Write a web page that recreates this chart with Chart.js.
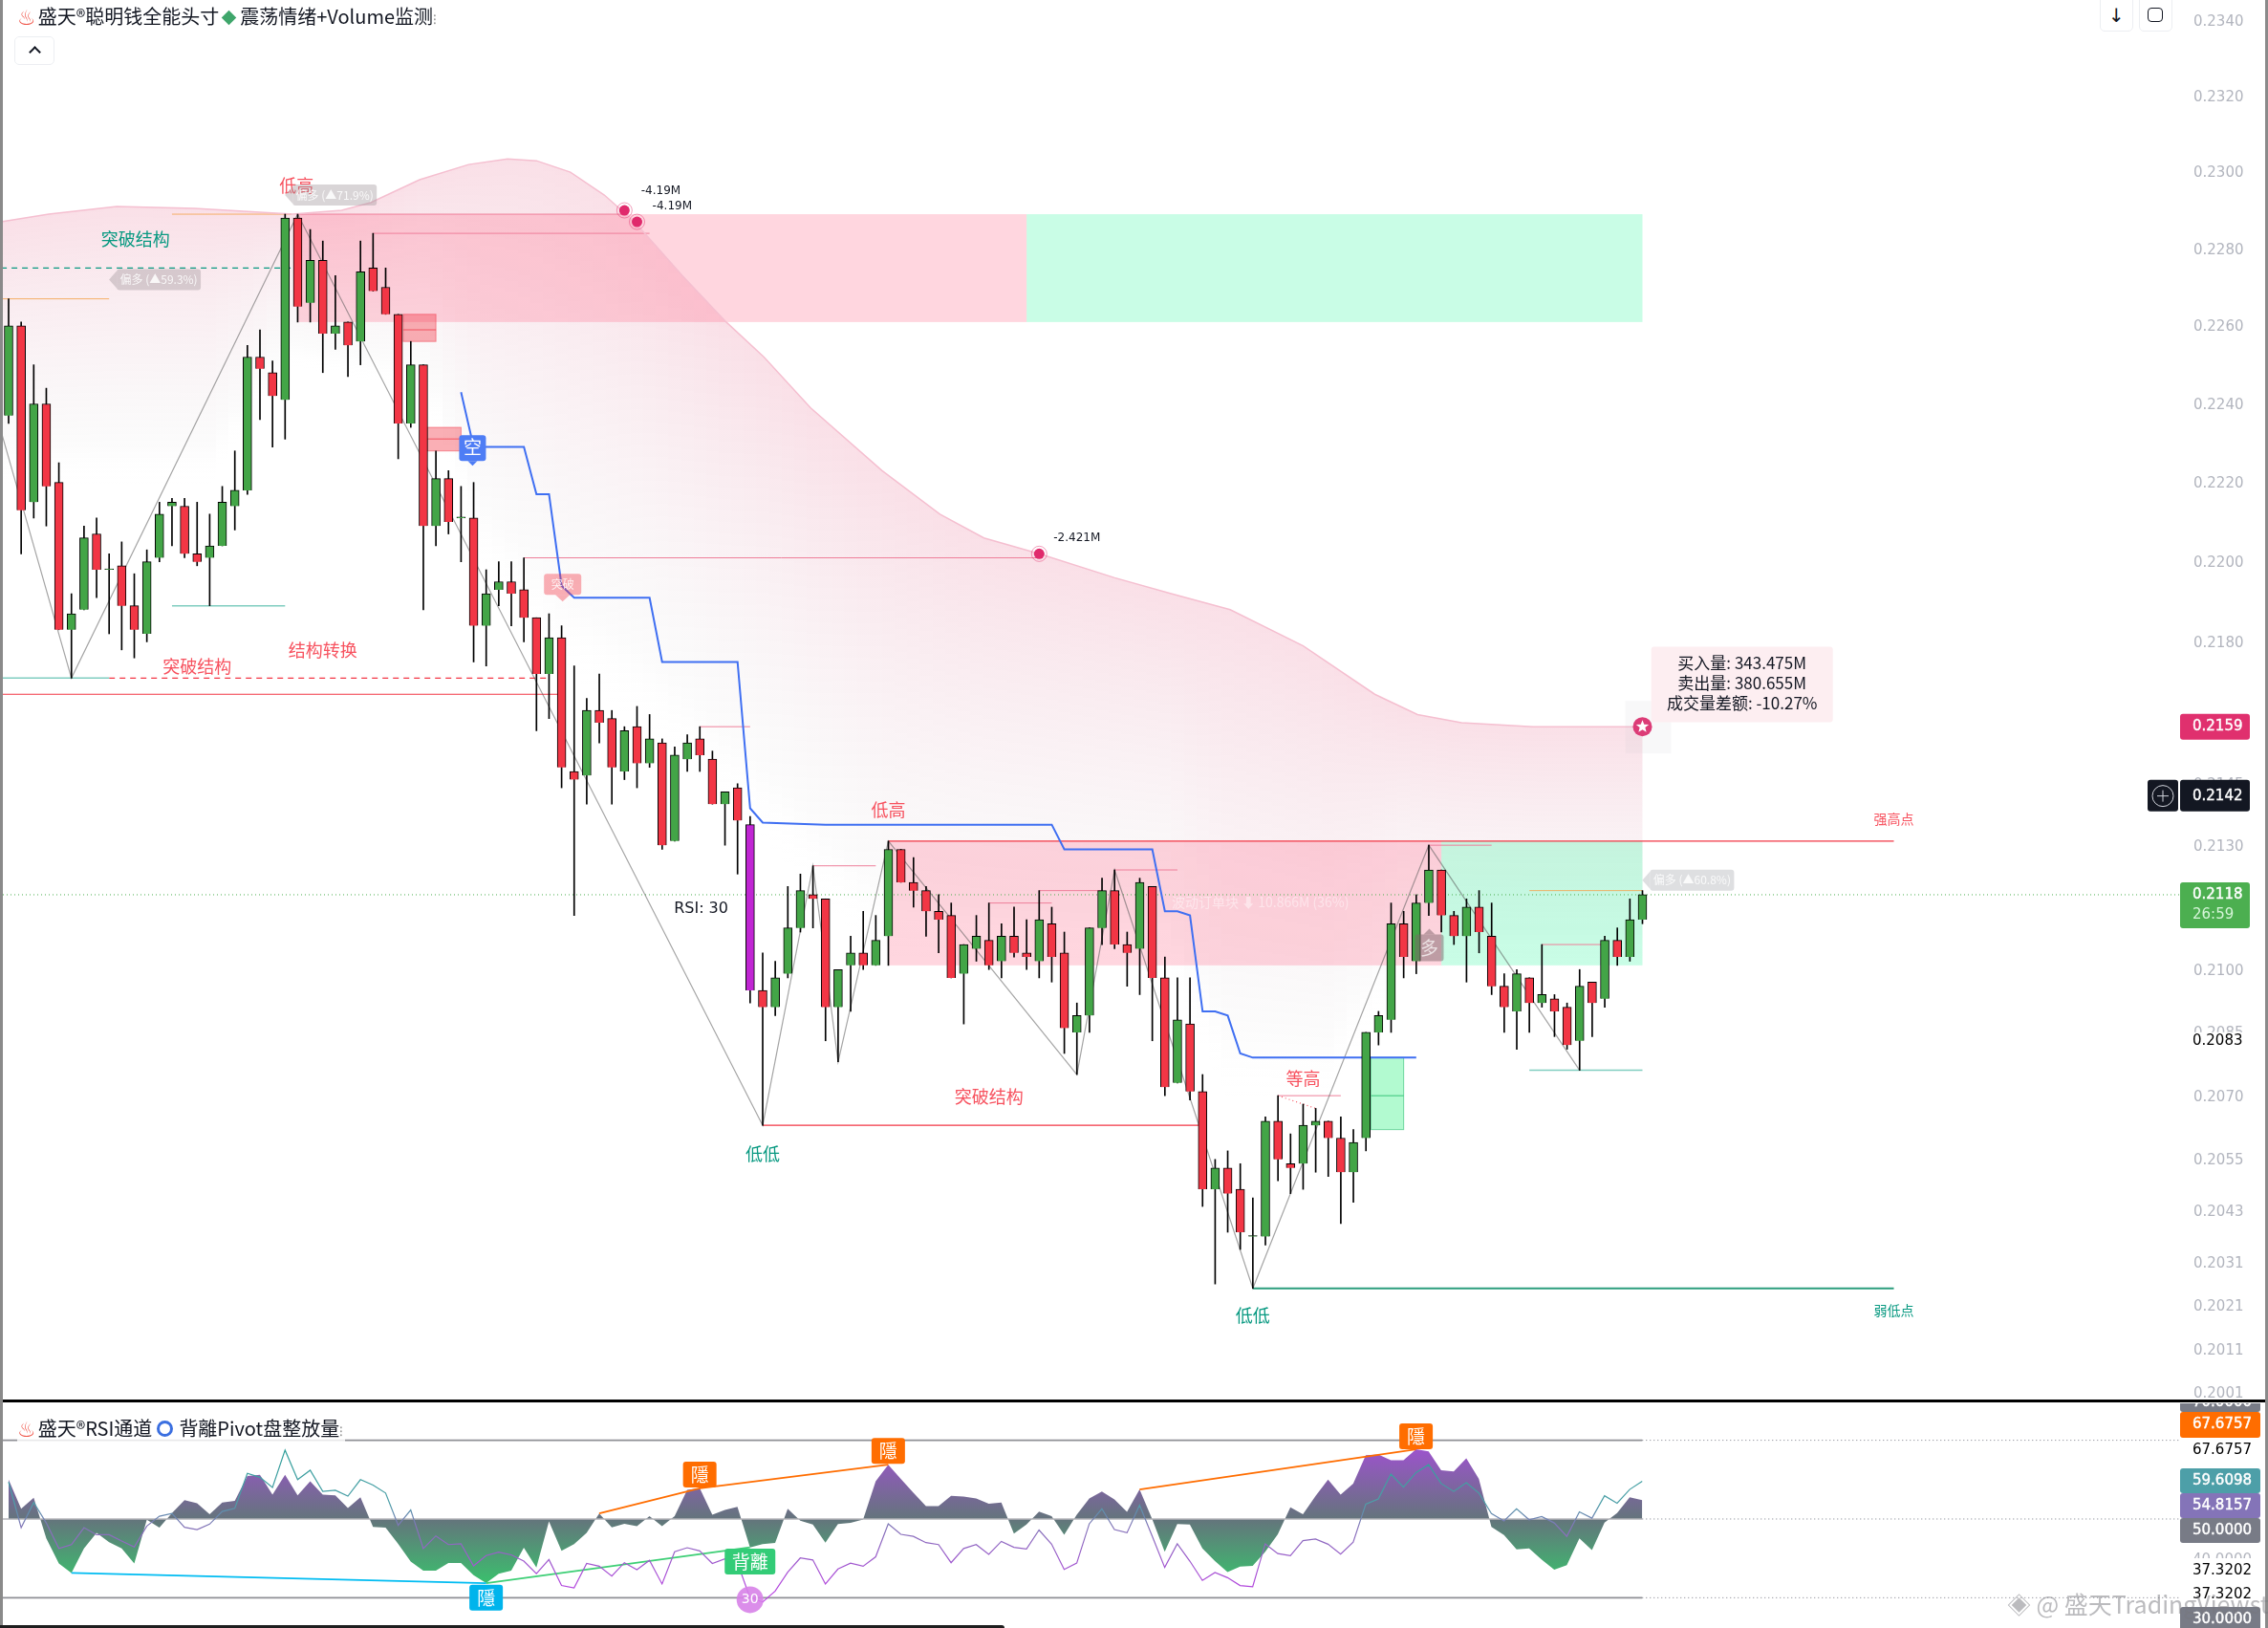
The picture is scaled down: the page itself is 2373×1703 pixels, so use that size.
<!DOCTYPE html>
<html lang="zh">
<head>
<meta charset="UTF-8">
<title>盛天 RSI</title>
<script src="https://cdn.jsdelivr.net/npm/chart.js"></script>
<style>
    body { margin: 0; background: #fff; width: 2373px; height: 1703px; position: relative; overflow: hidden; font-family: "Noto Sans CJK SC", sans-serif; color: #131722; }
    canvas { position: absolute; left: 0; }
    #priceCanvas { top: 0; }
    #rsiCanvas { top: 1468px; }
    .edge { position: absolute; top: 0; bottom: 0; background: #8a8a8a; }
    .pane-line { position: absolute; left: 0; width: 2370px; top: 1464px; height: 3px; background: #000; }
    .title { position: absolute; left: 18px; font-size: 20px; line-height: 26px; white-space: nowrap; background: rgba(255,255,255,.8); padding-right: 2px; }
    .title .flame { color: #f0564a; font-family: "DejaVu Sans"; font-size: 22px; margin-right: 2px; vertical-align: -1px; line-height: 20px; }
    .title .money { display: inline-block; width: 11px; height: 11px; background: #3fa66b; transform: rotate(45deg); margin: 0 6px 1px 5px; }
    .title .swirl { display: inline-block; width: 11px; height: 11px; border: 3px solid #3b6fe0; border-radius: 50%; margin: 0 6px 0 5px; vertical-align: -1px; }
    .title .cut { color: #999; font-size: 14px; }
    .btn { position: absolute; background: #fff; border: 1px solid #eceef2; border-radius: 5px; box-sizing: border-box; font-family: "DejaVu Sans"; text-align: center; color: #131722; }
    .caret { position: absolute; left: 16px; top: 11px; width: 7px; height: 7px; border-left: 2px solid #131722; border-top: 2px solid #131722; transform: rotate(45deg); }
    .frame { position: absolute; left: 8px; top: 15px; width: 14px; height: 13px; border: 1.5px solid #131722; border-radius: 4px; }
    .watermark { position: absolute; left: 2100px; top: 1660px; font-size: 25px; line-height: 34px; color: rgba(120,120,125,.5); white-space: nowrap; }
    .bottom-strip { position: absolute; left: 0; top: 1700px; width: 1051px; height: 3px; background: #1e1e1e; border-top-right-radius: 3px; }
</style>
</head>
<body>
<canvas id="priceCanvas" width="2373" height="1465"></canvas>
<canvas id="rsiCanvas" width="2373" height="235"></canvas>
<div class="pane-line"></div>
<div class="edge" style="left:0;width:3px"></div>
<div class="edge" style="left:2370px;width:3px"></div>
<div class="title" style="top:4px"><span class="flame">♨</span>盛天®聪明钱全能头寸<span class="money"></span>震荡情绪+Volume监测<span class="cut">⁝</span></div>
<div class="title" style="top:1481px"><span class="flame">♨</span>盛天®RSI通道<span class="swirl"></span>背離Pivot盘整放量<span class="cut">⁝</span></div>
<div class="btn" style="left:15px;top:38px;width:42px;height:30px"><span class="caret"></span></div>
<div class="btn" style="left:2197px;top:-8px;width:35px;height:41px;font-size:20px;line-height:46px">↓</div>
<div class="btn" style="left:2238px;top:-8px;width:35px;height:41px"><span class="frame"></span></div>
<div class="bottom-strip"></div>
<div class="watermark">◈ @ 盛天TradingViewst</div>

<script>
// candles
const opens = [.2237,.2260,.2215,.2240,.2220,.2183,.2188,.2207,.2198,.2199,.2189,.2182,.2201,.2214,.2214,.2202,.2201,.2204,.2214,.2218,.2252,.2248,.2241,.2288,.2266,.2277,.2258,.2261,.2256,.2275,.2270,.2263,.2235,.2250,.2209,.2221,.2211,.2211,.2184,.2193,.2195,.2193,.2186,.2172,.2181,.2148,.2147,.2163,.2161,.2148,.2159,.2150,.2155,.2131,.2151,.2156,.2151,.2140,.2144,.2135,.2095,.2091,.2099,.2110,.2118,.2117,.2091,.2101,.2104,.2101,.2108,.2129,.2121,.2119,.2114,.2113,.2099,.2105,.2107,.2102,.2108,.2104,.2102,.2111,.2104,.2085,.2089,.2110,.2119,.2106,.2105,.2120,.2098,.2073,.2087,.2071,.2048,.2053,.2048,.2037,.2037,.2064,.2054,.2054,.2063,.2064,.2060,.2052,.2060,.2085,.2088,.2111,.2102,.2116,.2124,.2113,.2108,.2115,.2108,.2096,.2090,.2098,.2092,.2093,.2091,.2083,.2097,.2093,.2107,.2103,.2112];
const highs = [.2267,.2261,.2250,.2244,.2225,.2192,.2209,.2211,.2202,.2205,.2197,.2203,.2215,.2216,.2216,.2215,.2212,.2219,.2228,.2255,.2259,.2251,.2289,.2289,.2285,.2282,.2273,.2261,.2282,.2284,.2275,.2263,.2256,.2250,.2228,.2223,.2219,.2220,.2198,.2200,.2200,.2201,.2186,.2187,.2184,.2174,.2166,.2172,.2163,.2159,.2164,.2162,.2156,.2154,.2157,.2159,.2153,.2143,.2145,.2137,.2104,.2102,.2120,.2123,.2125,.2117,.2100,.2108,.2114,.2113,.2131,.2129,.2127,.2120,.2118,.2116,.2106,.2113,.2116,.2111,.2115,.2112,.2119,.2115,.2109,.2092,.2110,.2122,.2124,.2109,.2122,.2120,.2103,.2098,.2098,.2075,.2055,.2057,.2054,.2046,.2065,.2070,.2061,.2068,.2067,.2064,.2065,.2062,.2085,.2090,.2116,.2114,.2118,.2130,.2124,.2114,.2117,.2119,.2116,.2099,.2100,.2098,.2106,.2094,.2092,.2100,.2097,.2108,.2110,.2117,.2119];
const lows = [.2235,.2202,.2211,.2209,.2183,.2171,.2188,.2191,.2182,.2178,.2176,.2180,.2200,.2204,.2201,.2199,.2189,.2204,.2208,.2217,.2236,.2229,.2231,.2261,.2261,.2248,.2254,.2247,.2250,.2269,.2263,.2226,.2234,.2188,.2204,.2207,.2200,.2175,.2174,.2189,.2184,.2180,.2158,.2161,.2144,.2113,.2140,.2155,.2140,.2146,.2144,.2149,.2129,.2131,.2148,.2148,.2140,.2130,.2123,.2092,.2063,.2089,.2098,.2109,.2110,.2083,.2078,.2090,.2100,.2101,.2101,.2121,.2115,.2108,.2104,.2098,.2087,.2102,.2100,.2098,.2103,.2100,.2098,.2097,.2080,.2075,.2085,.2106,.2105,.2096,.2094,.2083,.2070,.2073,.2069,.2044,.2026,.2038,.2034,.2025,.2035,.2050,.2047,.2048,.2052,.2051,.2040,.2045,.2057,.2082,.2085,.2098,.2099,.2113,.2109,.2106,.2097,.2104,.2094,.2085,.2081,.2085,.2091,.2084,.2081,.2076,.2084,.2091,.2101,.2102,.2111];
const closes = [.2260,.2213,.2240,.2219,.2183,.2187,.2206,.2198,.2198,.2189,.2183,.2200,.2212,.2215,.2202,.2200,.2204,.2215,.2218,.2252,.2249,.2242,.2288,.2265,.2277,.2258,.2260,.2255,.2274,.2269,.2263,.2235,.2250,.2209,.2221,.2210,.2211,.2184,.2192,.2195,.2192,.2186,.2172,.2181,.2149,.2146,.2163,.2160,.2149,.2158,.2150,.2156,.2130,.2152,.2155,.2152,.2140,.2143,.2136,.2095,.2091,.2098,.2110,.2119,.2117,.2091,.2100,.2104,.2101,.2107,.2129,.2121,.2119,.2114,.2112,.2098,.2106,.2108,.2101,.2108,.2104,.2103,.2112,.2103,.2086,.2089,.2110,.2119,.2106,.2104,.2121,.2098,.2072,.2088,.2071,.2048,.2053,.2047,.2038,.2037,.2064,.2055,.2053,.2063,.2064,.2060,.2052,.2059,.2085,.2089,.2111,.2103,.2116,.2124,.2113,.2108,.2115,.2109,.2096,.2091,.2099,.2092,.2094,.2090,.2082,.2096,.2092,.2107,.2103,.2112,.2118];
const oversoldBars = [59];

const priceTicks = [.2340,.2320,.2300,.2280,.2260,.2240,.2220,.2200,.2180,.2145,.2130,.2100,.2085,.2070,.2055,.2043,.2031,.2021,.2011,.2001];

// rsi pane
const rsiArea = [60,52.6,55.4,45.1,38.7,36.3,42.5,46.5,44.1,42.5,38.7,49.8,47.8,51.5,54.8,54,51.2,54.2,54.6,60.9,61.2,56.2,61.2,56,59.6,56.2,56,52.8,55.5,48,47.8,43.7,39.2,36.9,36.9,38.8,38.8,35.7,33.7,36.1,36.9,42.7,37.7,49.4,41.9,43.6,46.5,51.4,47.9,48.8,48.2,50.7,48.2,50.7,57.4,57.8,51.1,52.3,53.1,42.8,43.6,43.9,52.6,49.6,48.6,44,48.7,49,49.9,59.6,63.8,60.2,56.7,53.3,53.3,55.9,55.7,55.2,53.9,54.2,46.3,48.6,51.9,50.7,46,51.1,55.2,57,55,51.8,57.5,50,41.7,48.7,48.6,42.5,39.3,36.5,37.9,38.1,41.7,46.1,53,51.2,55.8,60,56.2,59,66.2,66.4,64.9,64.9,67.7,67.2,62.4,62.1,65.4,60.2,48,45.9,42.3,42.5,39.7,37.1,38.3,45.1,42.1,49.1,51.5,55.5,54.8];
const rsiLine = [59.4,47.8,54.2,49,42.5,43.5,47.8,46,46,44.4,42.9,48.2,50.7,51.4,47.9,47.3,48.7,51.9,52.7,61.6,60.6,58,67.5,60,62.4,57,57.3,55.8,60,58.6,56.6,48.4,52.3,42.5,45.7,43.5,43.7,38.1,40.7,41.6,40.9,39.3,36.1,39.7,33.1,32.5,38.7,38,35.5,38.9,37.1,39.5,33.5,41.7,42.7,41.9,38.7,39.9,38.9,30,28.9,31.7,36.5,40.1,39.6,33.5,37.3,38.8,38,40.4,48.8,46.1,45.6,44,43.5,38.9,42.5,43.5,41,44.3,42.8,42.4,47.2,43.6,37.2,38.8,48.8,52.6,47.3,46.5,53.5,45.7,37.7,43.7,39.3,34.4,36.4,35.1,33.1,32.8,43.7,41.2,40.7,44.5,44.9,43.6,41.1,44.1,53.8,55.1,61.4,58.1,61.8,63.8,59,57,59.2,56.6,51.4,49.5,52.6,49.8,50.6,49,45.6,51.8,50.2,55.9,54,57.5,59.6];
const rsiLevels = [70,50,30];
const tealDivergence = [[5,36.3],[38,33.7]];
const greenDivergence = [[38,33.7],[59,42.8]];
const orangeDivergence1 = [[47,51.4],[55,57.8],[70,63.8]];
const orangeDivergence2 = [[90,57.5],[112,67.7]];

// money flow curve and the lower edge of its shading
const curveBars = [-0.6,3.2,8.6,14.8,22.6,26.5,28.8,32.7,36.6,39.7,42,44.7,47.4,49.8,53.6,57.1,60.1,63.8,69.5,74.1,77.6,82,88,92.5,97.2,103,108.7,112.1,115.6,121.3,130];
const curveValues = [.2287,.2289,.2291,.22905,.2289,.2290,.2292,.2298,.2302,.23035,.2303,.2300,.2294,.2287,.2273,.2261,.2252,.2239,.2223,.2212,.2206,.2202,.2196,.2192,.2188,.2179,.2167,.2162,.2160,.2159,.2159];
const shadeBars = [-0.6,16,22,33,38,44,52,60,70,92,97,105,111,130];
const shadeValues = [.2219,.2219,.2250,.2243,.2197,.2173,.2155,.2131,.2100,.2100,.2069,.2069,.2100,.2100];

// blue trail line and zigzag
const trailBars = [36,37,41,42,43,44,45,51,52,58,59,60,65,83,84,91,92,93,94,95,96,97,98,99,112];
const trailValues = [.2243,.2229,.2229,.2217,.2217,.2194,.2191,.2191,.2175,.2175,.2139,.21355,.2135,.2135,.2129,.2129,.2114,.2114,.2113,.2090,.2090,.2089,.2080,.2079,.2079];
const zigzagBars = [-0.6,5,23,60,64,66,70,85,88,99,113,125];
const zigzagValues = [.2233,.2171,.2289,.2063,.2125,.2078,.2131,.2075,.2124,.2025,.2130,.2076];

// [from bar, to bar, price]
const redLevels = [[-0.6,44,.2167],[60,95,.2063],[70,150,.2131]];
const greenLevels = [[99,150,.2025]];
const pinkLevels = [[23,49,.2289],[29,51,.2284],[41,82,.2201],[55,59,.2159],[64,69,.2125],[78,83,.2116],[82,87,.2119],[88,93,.2124],[101,106,.2070],[113,118,.2130],[122,127,.2106]];
const orangeLevels = [[-0.6,8,.2267],[13,22.5,.2289],[121,130,.2119]];
const paleTealLevels = [[-0.6,8,.2171],[13,22,.2189],[121,130,.2076]];
const tealDashed = [[-0.6,22.5,.2275]];
const redDashed = [[8,43,.2171]];

// [from bar, to bar, top price, bottom price]
const pinkZones = [[23,81,.2289,.2261],[70,114,.2131,.2101]];
const mintZones = [[81,130,.2289,.2261],[114,130,.2131,.2101]];
// [from bar, to bar, top, middle, bottom]
const redBoxes = [[31.4,34,.2263,.2259,.2256],[33.3,36,.2234,.2231,.2228]];
const greenBoxes = [[108.4,111,.2079,.2070,.2062]];

const volumeDots = [[49,.2290],[50,.2287],[82,.2202],[130,.2159]];

const redNotes = [['低高',22.9,.22965],['结构转换',25,.2178],['突破结构',15,.2174],['低高',70,.21385],['突破结构',78,.20698],['等高',103,.2074]];
const greenNotes = [['突破结构',10.1,.22825],['低低',60,.20562],['低低',99,.20187]];
const bias = [['偏多 (▲59.3%)',8.6,.2272],['偏多 (▲71.9%)',22.6,.2294],['偏多 (▲60.8%)',130.6,.21215]];
const volumeTexts = [['-4.19M',51.9,.2295],['-4.19M',52.8,.2291],['-2.421M',85,.2206]];
const buySellLines = ['买入量: 343.475M','卖出量: 380.655M','成交量差额: -10.27%'];

const axisFont = '15px "DejaVu Sans"';
const cjk = '"Noto Sans CJK SC"';
const xMin = -0.456, xMax = 172.8;

const candleUp = '#43a547', candleDown = '#f23645', oversold = '#c026d3';

function levelSets(list, color, width, dash) {
    return list.map(s => ({
        type: 'line', order: 3, borderColor: color, borderWidth: width, borderDash: dash || [], pointRadius: 0,
        data: [{x: s[0], y: s[2]}, {x: s[1], y: s[2]}]
    }));
}

function pathSet(bars, values, color, width, dash) {
    return {
        type: 'line', order: 3, borderColor: color, borderWidth: width, borderDash: dash || [], pointRadius: 0,
        data: bars.map((b, i) => ({x: b, y: values[i]}))
    };
}

function lerp(bars, vals, at) {
    for (let i = 1; i < bars.length; i++) {
        if (at <= bars[i]) return vals[i - 1] + (vals[i] - vals[i - 1]) * (at - bars[i - 1]) / (bars[i] - bars[i - 1]);
    }
    return vals[vals.length - 1];
}

function tag(ctx, x, y, w, h, color, r) {
    ctx.fillStyle = color;
    ctx.beginPath();
    ctx.roundRect(x, y, w, h, r === undefined ? 3 : r);
    ctx.fill();
}

function text(ctx, str, x, y, font, color, align) {
    ctx.font = font;
    ctx.fillStyle = color;
    ctx.textAlign = align || 'center';
    ctx.textBaseline = 'middle';
    ctx.fillText(str, x, y);
}

// white tag text sits a bit heavier than the plain axis labels
function tagText(ctx, str, x, y, color) {
    text(ctx, str, x, y, axisFont, color, 'left');
    ctx.strokeStyle = color;
    ctx.lineWidth = .4;
    ctx.strokeText(str, x, y);
}

// shading and zones go under the candles
const backdrop = {
    id: 'backdrop',
    beforeDatasetsDraw(chart) {
        const {ctx, scales: {x, y}} = chart;
        ctx.save();
        // shade between curve and lower edge, one column per bar
        ctx.beginPath();
        curveBars.forEach((b, i) => ctx.lineTo(x.getPixelForValue(b), y.getPixelForValue(curveValues[i])));
        for (let i = shadeBars.length - 1; i >= 0; i--) ctx.lineTo(x.getPixelForValue(shadeBars[i]), y.getPixelForValue(shadeValues[i]));
        ctx.closePath();
        ctx.clip();
        for (let b = -0.5; b < 130; b++) {
            const px = Math.round(x.getPixelForValue(b));
            const px2 = Math.round(x.getPixelForValue(b + 1));
            const top = y.getPixelForValue(lerp(curveBars, curveValues, b + .5));
            const bottom = y.getPixelForValue(lerp(shadeBars, shadeValues, b + .5));
            const g = ctx.createLinearGradient(0, top, 0, bottom);
            g.addColorStop(0, 'rgba(225,70,115,.17)');
            g.addColorStop(.5, 'rgba(200,110,140,.085)');
            g.addColorStop(.85, 'rgba(150,140,145,.03)');
            g.addColorStop(1, 'rgba(255,255,255,0)');
            ctx.fillStyle = g;
            ctx.fillRect(px, top - 40, px2 - px, bottom - top + 40);
        }
        ctx.restore();

        const zone = (z, color) => {
            const x0 = x.getPixelForValue(z[0]), x1 = x.getPixelForValue(z[1]);
            const y0 = y.getPixelForValue(z[2]), y1 = y.getPixelForValue(z[3]);
            ctx.fillStyle = color;
            ctx.fillRect(x0, y0, x1 - x0, y1 - y0);
        };
        pinkZones.forEach(z => zone(z, 'rgba(255,82,120,.24)'));
        mintZones.forEach(z => zone(z, 'rgba(0,245,135,.21)'));

        const box = (b, fill, edge) => {
            const x0 = x.getPixelForValue(b[0]), x1 = x.getPixelForValue(b[1]);
            const y0 = y.getPixelForValue(b[2]), ym = y.getPixelForValue(b[3]), y1 = y.getPixelForValue(b[4]);
            ctx.fillStyle = fill;
            ctx.fillRect(x0, y0, x1 - x0, y1 - y0);
            ctx.strokeStyle = edge;
            ctx.lineWidth = 1;
            ctx.strokeRect(x0, y0, x1 - x0, y1 - y0);
            ctx.lineWidth = 1.5;
            ctx.beginPath();
            ctx.moveTo(x0, ym);
            ctx.lineTo(x1, ym);
            ctx.stroke();
        };
        redBoxes.forEach(b => box(b, 'rgba(242,54,69,.4)', 'rgba(242,54,69,.5)'));
        greenBoxes.forEach(b => box(b, 'rgba(0,240,100,.3)', 'rgba(40,190,110,.6)'));
    }
};

// labels on top of everything
const overlay = {
    id: 'overlay',
    afterDatasetsDraw(chart) {
        const {ctx, scales: {x, y}} = chart;
        const X = v => x.getPixelForValue(v), Y = v => y.getPixelForValue(v);
        ctx.save();

        redNotes.forEach(n => text(ctx, n[0], X(n[1]), Y(n[2]), '18px ' + cjk, '#f7525f'));
        greenNotes.forEach(n => text(ctx, n[0], X(n[1]), Y(n[2]), '18px ' + cjk, '#089981'));
        text(ctx, '强高点', X(150), Y(.21365), '14px ' + cjk, '#f7525f');
        text(ctx, '弱低点', X(150), Y(.2020), '14px ' + cjk, '#089981');
        text(ctx, 'RSI: 30', X(55.1), Y(.21145), '16px "DejaVu Sans"', '#131722');
        text(ctx, '波动订单块 ⬇ 10.866M (36%)', X(99.6), Y(.2118) + 8, '14px ' + cjk, 'rgba(255,255,255,.45)');

        // bias tags with a little arrow on the left
        bias.forEach((b, i) => {
            const px = X(b[1]), py = Y(b[2]);
            const color = i === 2 ? 'rgba(190,192,196,.5)' : 'rgba(160,150,155,.4)';
            ctx.fillStyle = color;
            ctx.beginPath();
            ctx.moveTo(px - 8, py);
            ctx.lineTo(px, py - 9);
            ctx.lineTo(px, py + 9);
            ctx.fill();
            tag(ctx, px, py - 11, 88, 22, color);
            text(ctx, b[0], px + 44, py, '12px ' + cjk, 'rgba(255,255,255,.85)');
        });

        // short / break tags
        const sx0 = X(35.85), sy0 = Y(.2232);
        tag(ctx, sx0, sy0, 28, 27, '#4e7df5');
        ctx.fillStyle = '#4e7df5';
        ctx.beginPath();
        ctx.moveTo(sx0 + 9, sy0 + 27);
        ctx.lineTo(sx0 + 19, sy0 + 27);
        ctx.lineTo(sx0 + 14, sy0 + 32);
        ctx.fill();
        text(ctx, '空', sx0 + 14, sy0 + 13, '19px ' + cjk, '#fff');

        const bx0 = X(42.6), by0 = Y(.2197);
        tag(ctx, bx0, by0, 39, 22, 'rgba(242,54,69,.4)');
        ctx.fillStyle = 'rgba(242,54,69,.4)';
        ctx.beginPath();
        ctx.moveTo(bx0 + 12, by0 + 22);
        ctx.lineTo(bx0 + 27, by0 + 22);
        ctx.lineTo(bx0 + 19.5, by0 + 29);
        ctx.fill();
        text(ctx, '突破', bx0 + 19.5, by0 + 11, '12px ' + cjk, 'rgba(255,255,255,.85)');

        // long tag
        const lx0 = X(111.9), ly0 = Y(.21084);
        tag(ctx, lx0, ly0, 30, 28, 'rgba(125,100,105,.5)');
        ctx.fillStyle = 'rgba(125,100,105,.5)';
        ctx.beginPath();
        ctx.moveTo(lx0 + 9, ly0);
        ctx.lineTo(lx0 + 21, ly0);
        ctx.lineTo(lx0 + 15, ly0 - 6);
        ctx.fill();
        text(ctx, '多', lx0 + 15, ly0 + 14, '19px ' + cjk, 'rgba(255,255,255,.7)');

        // volume marks
        volumeTexts.forEach(v => text(ctx, v[0], X(v[1]), Y(v[2]), '12px "DejaVu Sans"', '#131722'));
        volumeDots.slice(0, 3).forEach(d => {
            const px = X(d[0]), py = Y(d[1]);
            ctx.strokeStyle = 'rgba(225,40,105,.45)';
            ctx.lineWidth = 1;
            ctx.beginPath();
            ctx.arc(px, py, 8, 0, Math.PI * 2);
            ctx.stroke();
        });
        const sx = X(130), sy = Y(.2159);
        ctx.fillStyle = 'rgba(200,200,205,.12)';
        ctx.fillRect(sx - 18, sy - 27, 48, 55);
        ctx.fillStyle = '#fff';
        ctx.beginPath();
        for (let i = 0; i < 10; i++) {
            const r = i % 2 ? 3 : 7, a = -Math.PI / 2 + i * Math.PI / 5;
            ctx.lineTo(sx + r * Math.cos(a), sy + r * Math.sin(a));
        }
        ctx.closePath();
        ctx.fill();

        // buy / sell box
        tag(ctx, X(130.7), Y(.21788), 190, 79, '#fdeef1');
        buySellLines.forEach((l, i) => text(ctx, l, X(130.7) + 95, Y(.21788) + 17 + i * 21, '17px ' + cjk, '#131722'));
        ctx.restore();
    },
    afterDraw(chart) {
        const {ctx, scales: {y}} = chart;
        ctx.save();
        const right = 2281, w = 73;
        const ax = 2294;
        let py = y.getPixelForValue(.2159);
        tag(ctx, right, py - 13.5, w, 27, '#e0306e');
        tagText(ctx, '0.2159', ax, py, '#fff');
        py = y.getPixelForValue(.2142);
        tag(ctx, right - 34, py - 17, 32, 33, '#131722');
        tag(ctx, right, py - 17, w, 33, '#131722');
        tagText(ctx, '0.2142', ax, py, '#fff');
        ctx.strokeStyle = '#d1d4dc';
        ctx.lineWidth = 1;
        ctx.beginPath();
        ctx.arc(right - 18, py, 11, 0, Math.PI * 2);
        ctx.moveTo(right - 24, py);
        ctx.lineTo(right - 12, py);
        ctx.moveTo(right - 18, py - 6);
        ctx.lineTo(right - 18, py + 6);
        ctx.stroke();
        py = y.getPixelForValue(.2118);
        tag(ctx, right, py - 13, w, 48, '#4caf50');
        tagText(ctx, '0.2118', ax, py, '#fff');
        text(ctx, '26:59', ax, py + 21, axisFont, '#d6f5d8', 'left');
        py = y.getPixelForValue(.2083);
        ctx.fillStyle = '#fff';
        ctx.fillRect(right, py - 9, w, 18);
        text(ctx, '0.2083', ax, py, axisFont, '#000', 'left');
        ctx.restore();
    }
};

const priceChart = new Chart(document.getElementById('priceCanvas'), {
    type: 'bar',
    data: {
        datasets: [
            {
                order: 1, grouped: false, barThickness: 9, borderWidth: 1, borderColor: '#000', minBarLength: 1,
                backgroundColor: ctx => oversoldBars.includes(ctx.dataIndex) ? oversold : (closes[ctx.dataIndex] >= opens[ctx.dataIndex] ? candleUp : candleDown),
                data: opens.map((o, i) => ({x: i, y: [Math.min(o, closes[i]), Math.max(o, closes[i])]}))
            },
            {
                order: 2, grouped: false, barThickness: 1, backgroundColor: '#000',
                data: highs.map((h, i) => ({x: i, y: [lows[i], h]}))
            },
            pathSet(curveBars, curveValues, '#f5bfd0', 1.5),
            pathSet(trailBars, trailValues, '#3f6ff2', 2),
            pathSet(zigzagBars, zigzagValues, 'rgba(90,90,90,.55)', 1.2),
            pathSet([xMin, xMax], [.2118, .2118], '#4caf50', 1, [1, 3]),
            pathSet([101, 104], [.2070, .2067], '#f7525f', 1.2, [1, 3]),
            ...levelSets(redLevels, '#f23645', 1.2),
            ...levelSets(greenLevels, '#2a9d7c', 2),
            ...levelSets(pinkLevels, '#ee7f9a', 1),
            ...levelSets(orangeLevels, 'rgba(245,165,80,.85)', 1),
            ...levelSets(paleTealLevels, '#80cdc0', 1.5),
            ...levelSets(tealDashed, '#089981', 1.2, [6, 5]),
            ...levelSets(redDashed, '#f23645', 1.2, [6, 5]),
            {
                type: 'line', order: 0, showLine: false, pointStyle: 'circle', pointBackgroundColor: '#e02a6c', pointBorderWidth: 0,
                pointRadius: c => c.dataIndex === 3 ? 10 : 5.5,
                data: volumeDots.map(d => ({x: d[0], y: d[1]}))
            }
        ]
    },
    options: {
        responsive: false,
        animation: false,
        events: [],
        layout: {padding: {left: 3}},
        plugins: {legend: {display: false}, tooltip: {enabled: false}},
        scales: {
            x: {type: 'linear', display: false, offset: false, bounds: 'data', min: xMin, max: xMax},
            y: {
                type: 'logarithmic', position: 'right', bounds: 'data', min: .19990, max: .234536,
                grid: {display: false}, border: {display: false},
                afterBuildTicks: s => { s.ticks = priceTicks.map(v => ({value: v})); },
                afterFit: s => { s.width = 92; s.paddingTop = 0; s.paddingBottom = 0; },
                ticks: {autoSkip: false, padding: 6, labelOffset: 1.5, color: '#b2b5be', font: {family: 'DejaVu Sans', size: 15}, callback: v => Number(v).toFixed(4)}
            }
        }
    },
    plugins: [backdrop, overlay]
});

// the axis labels eat a little of the plot area, so set both ranges from the real plot area
const priceAtRow = row => .234 * Math.exp(-(row - 22) / 9169);
const barAtColumn = col => (col - 9) / 13.15;
const plot = priceChart.chartArea;
priceChart.options.scales.y.min = priceAtRow(plot.bottom);
priceChart.options.scales.y.max = priceAtRow(plot.top);
priceChart.options.scales.x.min = barAtColumn(plot.left);
priceChart.options.scales.x.max = barAtColumn(plot.right);
// first candle sits right against the plot edge, do not cut it
priceChart.data.datasets.forEach(d => { d.clip = false; });
priceChart.update();

// rsi pane tags are stacked in the axis column so they do not overlap
const rsiTagTexts = ['70.0000','67.6757','59.6098','54.8157','50.0000','30.0000'];
const rsiPlainTexts = ['67.6757','37.3202','37.3202'];

const rsiDecor = {
    id: 'rsiDecor',
    afterDatasetsDraw(chart) {
        const {ctx, scales: {x, y}} = chart;
        const X = v => x.getPixelForValue(v), Y = v => y.getPixelForValue(v);
        ctx.save();
        const hint = (str, bar, val, color, w) => {
            tag(ctx, X(bar) - w / 2, Y(val) - 13.5, w, 27, color);
            text(ctx, str, X(bar), Y(val), '19px "Noto Sans CJK TC"', '#fff');
        };
        ctx.beginPath();
        ctx.fillStyle = 'rgba(215,130,232,.9)';
        ctx.arc(X(59), Y(29.5), 14, 0, Math.PI * 2);
        ctx.fill();
        text(ctx, '30', X(59), Y(29.5), '14px "DejaVu Sans"', '#fff');
        hint('隱', 55, 61.3, '#ff6d00', 35);
        hint('隱', 70, 67.3, '#ff6d00', 35);
        hint('隱', 112, 71, '#ff6d00', 35);
        hint('隱', 38, 30, '#00b4ec', 35);
        hint('背離', 59, 39.2, '#33cc77', 53);

        // axis column, top of pane is row 1468
        const x0 = 2281, w = 84, ax = 2294, top = 1468;
        ctx.save();
        ctx.beginPath();
        ctx.rect(x0, 0, w + 2, 235);
        ctx.clip();
        const box = (yy, h, color, str, dy) => {
            tag(ctx, x0, yy - top, w, h, color);
            tagText(ctx, str, ax, yy - top + (dy === undefined ? h / 2 : dy), '#fff');
        };
        box(1455, 22, '#787b86', rsiTagTexts[0], 12);
        box(1477, 27, '#ff6d00', rsiTagTexts[1]);
        text(ctx, rsiPlainTexts[0], ax, 1517 - top, axisFont, '#000', 'left');
        box(1536, 26, '#4d9fa8', rsiTagTexts[2]);
        box(1562, 26, '#8474b8', rsiTagTexts[3]);
        box(1588, 26, '#787b86', rsiTagTexts[4]);
        ctx.save();
        ctx.beginPath();
        ctx.rect(x0, 1624 - top, w, 6);
        ctx.clip();
        text(ctx, '40.0000', ax, 1632 - top, axisFont, '#b2b5be', 'left');
        ctx.restore();
        text(ctx, rsiPlainTexts[1], ax, 1643 - top, axisFont, '#000', 'left');
        text(ctx, rsiPlainTexts[2], ax, 1668 - top, axisFont, '#000', 'left');
        box(1681, 26, '#787b86', rsiTagTexts[5], 13);
        ctx.restore();
        ctx.restore();
    }
};

function paneGradient(c, stops, fallback) {
    const {ctx, chartArea, scales} = c.chart;
    if (!chartArea || !scales.y) return fallback;
    const y0 = scales.y.getPixelForValue(70), y1 = scales.y.getPixelForValue(30);
    if (!Number.isFinite(y0) || !Number.isFinite(y1)) return fallback;
    const g = ctx.createLinearGradient(0, y0, 0, y1);
    stops.forEach(s => g.addColorStop(s[0], s[1]));
    return g;
}

const rsiChart = new Chart(document.getElementById('rsiCanvas'), {
    type: 'line',
    data: {
        datasets: [
            {
                order: 5, borderWidth: 0, pointRadius: 0,
                fill: {value: 50},
                backgroundColor: c => paneGradient(c, [[0,'#a34fd6'],[.5,'#64747c'],[.88,'#3dbb6e'],[1,'#3dbb6e']], '#64747c'),
                data: rsiArea.map((v, i) => ({x: i, y: v}))
            },
            {
                order: 1, borderWidth: 1.2, pointRadius: 0,
                borderColor: c => paneGradient(c, [[0,'#289e96'],[.4,'#4d9fa8'],[.55,'#8474b8'],[1,'#bb3fe4']], '#8474b8'),
                data: rsiLine.map((v, i) => ({x: i, y: v}))
            },
            ...rsiLevels.map(l => pathSet([-0.6, 130], [l, l], l === 50 ? '#b5b5ba' : '#8f9096', 1.6)),
            ...rsiLevels.map(l => pathSet([130, xMax], [l, l], '#787b86', 1, [1, 3])),
            pathSet(tealDivergence.map(p => p[0]), tealDivergence.map(p => p[1]), '#00bcf2', 1.8),
            pathSet(greenDivergence.map(p => p[0]), greenDivergence.map(p => p[1]), '#3ecf76', 1.8),
            pathSet(orangeDivergence1.map(p => p[0]), orangeDivergence1.map(p => p[1]), '#ff6d00', 1.8),
            pathSet(orangeDivergence2.map(p => p[0]), orangeDivergence2.map(p => p[1]), '#ff6d00', 1.8)
        ]
    },
    options: {
        responsive: false,
        animation: false,
        events: [],
        layout: {padding: {left: 3, right: 92}},
        plugins: {legend: {display: false}, tooltip: {enabled: false}},
        scales: {
            x: {type: 'linear', display: false, bounds: 'data', min: xMin, max: xMax},
            y: {type: 'linear', display: false, bounds: 'data', min: 22.53, max: 79.16}
        }
    },
    plugins: [rsiDecor]
});
rsiChart.data.datasets.forEach(d => { d.clip = false; });
rsiChart.update();
</script>
</body>
</html>
